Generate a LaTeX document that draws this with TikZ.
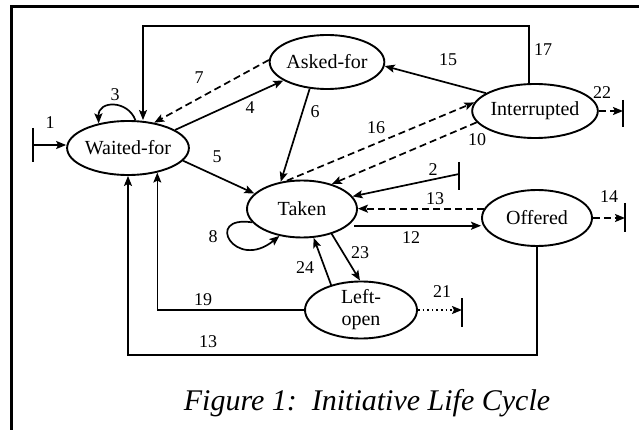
\documentclass[tikz,border=0pt]{standalone}
\usepackage{fontspec}
\setmainfont{Liberation Serif}
\usetikzlibrary{shapes.geometric,arrows.meta,calc}
\begin{document}
\begin{tikzpicture}[x=1pt,y=-1pt,
  st/.style={draw,ellipse,line width=1.9pt,inner sep=0pt,font=\fontsize{20}{22}\selectfont},
  edge/.style={line width=1.7pt,-{Stealth[length=10pt,width=8pt,inset=2pt]}},
  route/.style={line width=1.3pt,-{Stealth[length=10pt,width=8pt,inset=2pt]}},
  dsh/.style={dash pattern=on 7pt off 4pt},
  dot/.style={dash pattern=on 1.6pt off 3pt},
  lbl/.style={font=\fontsize{18}{18}\selectfont,inner sep=0pt},
  barline/.style={line width=2.8pt}]
\useasboundingbox (0,0) rectangle (639,430);
\draw[line width=3pt] (11,430) -- (11,7) -- (639,7);

% states
\node[st,minimum width=108pt,minimum height=54pt] (wf) at (128,148) {Waited-for};
\node[st,minimum width=110pt,minimum height=54pt] (af) at (327,62) {Asked-for};
\node[st,minimum width=114pt,minimum height=54pt] (in) at (535,111) {Interrupted};
\node[st,minimum width=110pt,minimum height=57pt] (tk) at (302,209) {Taken};
\node[st,minimum width=110pt,minimum height=56pt] (of) at (537,218) {Offered};
\node[st,minimum width=112pt,minimum height=56pt,align=center] (lo) at (361,310) {Left-\\open};

% bar ends
\coordinate (b1) at (33,145);
\coordinate (b22) at (623,113);
\coordinate (b2) at (459,174);
\coordinate (b14) at (625,217);
\coordinate (b21) at (462,312);
\draw[barline] ($(b1)+(0,-17)$) -- ($(b1)+(0,17)$);
\draw[barline] ($(b22)+(0,-13)$) -- ($(b22)+(0,14)$);
\draw[barline] ($(b2)+(0,-12)$) -- ($(b2)+(0,16)$);
\draw[barline] ($(b14)+(0,-14)$) -- ($(b14)+(0,15)$);
\draw[barline] ($(b21)+(0,-14)$) -- ($(b21)+(0,15)$);

% edges
\draw[edge] (b1) -- (b1 -| wf.west);
\draw[edge] (wf.75) .. controls (128,100) and (98,100) .. (wf.140);
\draw[edge,dsh] (af.178) -- (wf.44);
\draw[edge] (wf.21) -- (af.203);
\draw[edge] (wf.-13) -- (tk.162);
\draw[edge] (af.237) -- (tk.128);
\draw[edge,dsh] (tk.118) -- (in.172);
\draw[edge,dsh] (in.191) -- (tk.40);
\draw[edge] (in.160) -- (af.356);
\coordinate (c17) at (143,26);
\draw[route] ([xshift=-6pt]in.north) |- (c17) -- (c17 |- wf.north);
\draw[edge,dsh] (in.east) -- (in.east -| b22);
\draw[edge] (b2) -- (tk.14);
\draw[edge,dsh] (of.170) -- (of.170 -| tk.east);
\draw[edge] ([xshift=6pt]tk.-20) -- (tk.-20 -| of.west);
\draw[edge,dsh] (of.east) -- (of.east -| b14);
\draw[edge] (tk.195) .. controls (203,215) and (235,272) .. (tk.230);
\draw[edge] (tk.-40) -- (lo.92);
\draw[edge] (lo.140) -- (tk.-68);
\draw[edge,dot] (lo.east) -- (lo.east -| b21);
\draw[route] (lo.west) -| (wf.-40);
\coordinate (c13) at (128,355);
\draw[route] (of.south) |- (c13) -- (wf.south);

% labels
\node[lbl] (l1) at (50,123) {1};
\node[lbl] (l3) at (115,95) {3};
\node[lbl] (l7) at (199,78) {7};
\node[lbl] (l4) at (250,108) {4};
\node[lbl] (l5) at (217,157) {5};
\node[lbl] (l6) at (315,112) {6};
\node[lbl] (l16) at (376,128) {16};
\node[lbl] (l10) at (477,140) {10};
\node[lbl] (l15) at (448,60) {15};
\node[lbl] (l17) at (543,50) {17};
\node[lbl] (l22) at (602,93) {22};
\node[lbl] (l2) at (433,170) {2};
\node[lbl] (l13a) at (435,199) {13};
\node[lbl] (l14) at (609,197) {14};
\node[lbl] (l12) at (411,238) {12};
\node[lbl] (l23) at (360,253) {23};
\node[lbl] (l21) at (442,292) {21};
\node[lbl] (l24) at (305,268) {24};
\node[lbl] (l8) at (213,237) {8};
\node[lbl] (l19) at (203,300) {19};
\node[lbl] (l13b) at (208,342) {13};

\node[font=\fontsize{30}{34}\selectfont\itshape,inner sep=0pt] (cap) at (367,403) {Figure 1:\ \ Initiative Life Cycle};
\end{tikzpicture}
\end{document}
